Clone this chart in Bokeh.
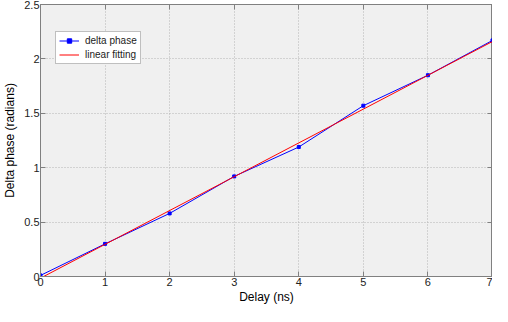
from bokeh.plotting import figure
from bokeh.models import LinearAxis, FixedTicker, Range1d, Legend, LegendItem
from bokeh.embed import file_html
from bokeh.resources import INLINE

# data
delay = [0, 1, 2, 3, 4, 5, 6, 7]
delta_phase = [0.01, 0.30, 0.58, 0.92, 1.19, 1.57, 1.85, 2.17]
fit_x = [0, 7]
fit_y = [-0.015, 2.16]
x_ticks = [0, 1, 2, 3, 4, 5, 6, 7]
y_ticks = [0, 0.5, 1, 1.5, 2, 2.5]
y_tick_labels = ["0", "0.5", "1", "1.5", "2", "2.5"]

FONT = "Liberation Sans"
AX_COL = "#808080"

p = figure(width=492, height=306, output_backend="svg", toolbar_location=None,
           x_range=Range1d(0, 7), y_range=Range1d(0, 2.5),
           min_border_left=26, min_border_right=0, min_border_top=4, min_border_bottom=20,
           background_fill_color="#f0f0f0", border_fill_color="white",
           x_axis_label="Delay (ns)", y_axis_label="Delta phase (radians)")
p.outline_line_color = AX_COL
p.outline_line_alpha = 1.0

for ax in (p.xaxis[0], p.yaxis[0]):
    ax.axis_line_color = AX_COL
    ax.major_tick_line_color = AX_COL
    ax.major_tick_in = 5
    ax.major_tick_out = 0
    ax.minor_tick_line_color = None
    ax.major_label_text_font = FONT
    ax.major_label_text_font_size = "11px"
    ax.major_label_text_color = "#222222"
    ax.axis_label_text_font = FONT
    ax.axis_label_text_font_size = "12px"
    ax.axis_label_text_font_style = "normal"
    ax.axis_label_text_color = "black"

p.xaxis[0].ticker = FixedTicker(ticks=x_ticks)
p.yaxis[0].ticker = FixedTicker(ticks=y_ticks)
p.yaxis[0].major_label_overrides = {t: l for t, l in zip(y_ticks, y_tick_labels)}
p.xaxis[0].major_label_standoff = 1
p.yaxis[0].major_label_standoff = 1
p.xaxis[0].axis_label_standoff = 1
p.yaxis[0].axis_label_standoff = 4

# box ticks on top and right
def box_axis(ticks):
    a = LinearAxis(ticker=FixedTicker(ticks=ticks), major_label_text_font_size="0px",
                   axis_line_color=AX_COL, major_tick_line_color=AX_COL,
                   major_tick_in=5, major_tick_out=0, minor_tick_line_color=None,
                   major_label_standoff=0, axis_label_standoff=0)
    a.major_label_overrides = {t: "" for t in ticks}
    return a

p.add_layout(box_axis(x_ticks), "above")
p.add_layout(box_axis(y_ticks), "right")

p.xgrid.grid_line_color = "#b4b4b4"
p.ygrid.grid_line_color = "#b4b4b4"
p.xgrid.grid_line_dash = "1 2"
p.ygrid.grid_line_dash = "1 2"

l1 = p.line(delay, delta_phase, line_color="#0000ff", line_width=1)
m1 = p.scatter(delay, delta_phase, marker="square", size=3, fill_color="#0000ff",
               line_color="#0000ff")
l2 = p.line(fit_x, fit_y, line_color="#ff0000", line_width=1)

legend = Legend(items=[LegendItem(label="delta phase", renderers=[l1, m1]),
                       LegendItem(label="linear fitting", renderers=[l2])],
                location=(15, 212))
legend.label_text_font = FONT
legend.label_text_font_size = "10px"
legend.label_text_color = "#222222"
legend.glyph_width = 20
legend.glyph_height = 11
legend.label_height = 11
legend.spacing = 3
legend.padding = 3
legend.margin = 0
legend.label_standoff = 6
legend.border_line_color = AX_COL
legend.background_fill_color = "white"
legend.background_fill_alpha = 1.0
p.add_layout(legend, "center")

open("out.html", "w").write(file_html(p, INLINE))
